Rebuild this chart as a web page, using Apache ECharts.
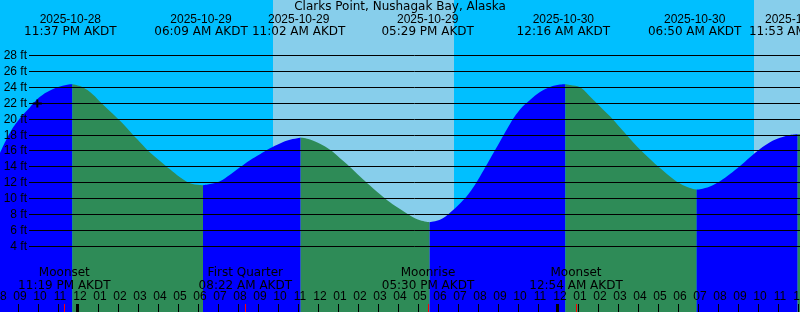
<!DOCTYPE html>
<html>
<head>
<meta charset="utf-8">
<script src="https://cdn.jsdelivr.net/npm/echarts@6/dist/echarts.min.js"></script>
<style>
html,body{margin:0;padding:0;background:#00BFFF;}
#chart{width:800px;height:312px;}
</style>
</head>
<body>
<div id="chart"></div>
<script>
// ---------- data ----------
const chartTitle = 'Clarks Point, Nushagak Bay, Alaska';
const axisStart = '2025-10-28 20:00';
const axisHours = 40;
const depthTicksFt = [4, 6, 8, 10, 12, 14, 16, 18, 20, 22, 24, 26, 28];

// tide height (hours after axisStart, feet)
const tideSampleHours = [0, 0.5, 1, 1.5, 2, 2.5, 3, 3.5, 4, 4.5, 5, 5.5, 6, 6.5, 7, 7.5, 8, 8.5, 9, 9.5,
  10, 10.5, 11, 11.5, 12, 12.5, 13, 13.5, 14, 14.5, 15, 15.5, 16, 16.5, 17, 17.5, 18, 18.5, 19, 19.5,
  20, 20.5, 21, 22, 22.5, 23, 23.5, 24, 24.5, 25, 25.5, 26, 26.5, 27, 27.5, 28, 28.5, 29, 29.5,
  30, 30.5, 31, 31.5, 32, 32.5, 33, 33.5, 34, 34.5, 35, 35.5, 36, 36.5, 37, 37.5, 38, 38.5, 39, 39.5, 40];
const tideSampleFt = [15.75, 18.3, 20.1, 21.5, 22.8, 23.6, 24.1, 24.37, 24.15, 23.4, 22.2, 21.0, 19.8, 18.45, 17.1, 15.8, 14.75, 13.7, 12.7, 11.95,
  11.72, 11.85, 12.2, 13.0, 13.95, 14.85, 15.6, 16.35, 16.95, 17.4, 17.65, 17.45, 16.9, 16.15, 15.1, 14.0, 12.8, 11.65, 10.55, 9.55,
  8.7, 7.9, 7.3, 7.35, 8.25, 9.4, 10.85, 12.8, 15.0, 17.2, 19.4, 21.2, 22.4, 23.4, 24.05, 24.35, 24.3, 24.0, 22.85,
  21.6, 20.35, 18.95, 17.55, 16.2, 15.0, 13.85, 12.8, 11.9, 11.35, 11.2, 11.55, 12.2, 13.1, 14.1, 15.2, 16.25, 17.1, 17.65, 18.0, 18.1];

// high / low tides
const tideEventTimes = ['2025-10-28 23:37', '2025-10-29 06:09', '2025-10-29 11:02', '2025-10-29 17:29',
  '2025-10-30 00:16', '2025-10-30 06:50', '2025-10-30 11:53'];
const tideEventFt = [24.4, 11.7, 17.7, 7.05, 24.4, 11.15, 18.1];

// moon events
const moonEventNames = ['Moonset', 'First Quarter', 'Moonrise', 'Moonset'];
const moonEventTimes = ['2025-10-28 23:19', '2025-10-29 08:22', '2025-10-29 17:30', '2025-10-30 00:54'];

// daylight (sunrise -> sunset)
const daylightStart = ['2025-10-29 09:39', '2025-10-30 09:42'];
const daylightEnd = ['2025-10-29 18:42', '2025-10-30 18:40'];

// plus marker
const markerTime = '2025-10-28 21:52';
const markerFt = 22;

const timeZoneLabel = 'AKDT';

// ---------- helpers ----------
function toMs(s) {
  const [d, t] = s.split(' ');
  const [Y, M, D] = d.split('-').map(Number);
  const [h, m] = t.split(':').map(Number);
  return Date.UTC(Y, M - 1, D, h, m);
}
const startMs = toMs(axisStart);
const hoursOf = s => (toMs(s) - startMs) / 3600000;
const startClock = Number(axisStart.slice(11, 13));
function clock12(s) {
  const h = Number(s.slice(11, 13));
  const m = s.slice(14, 16);
  return String(h % 12 || 12).padStart(2, '0') + ':' + m + ' ' + (h < 12 ? 'AM' : 'PM') + ' ' + timeZoneLabel;
}
const FONT_A = 'Liberation Sans';
const FONT_B = 'DejaVu Sans';
const LABEL_SHIFT = -2; // text/tick marks sit slightly left of the exact time

// ---------- tide segments ----------
const points = tideSampleHours.map((h, i) => [h, tideSampleFt[i]])
  .concat(tideEventTimes.map((t, i) => [hoursOf(t), tideEventFt[i]]))
  .sort((a, b) => a[0] - b[0]);
const bounds = [0].concat(tideEventTimes.map(hoursOf), [axisHours]);
const tideSeries = [];
for (let i = 0; i < bounds.length - 1; i++) {
  const seg = points.filter(p => p[0] >= bounds[i] - 1e-9 && p[0] <= bounds[i + 1] + 1e-9);
  const rising = seg[seg.length - 1][1] > seg[0][1];
  tideSeries.push({
    type: 'line', data: seg, smooth: 0.4, symbol: 'none', showSymbol: false,
    lineStyle: { width: 0, opacity: 0 },
    areaStyle: { color: rising ? '#0000FF' : '#2E8B57', opacity: 1, origin: 'start' },
    z: 2, silent: true, animation: false
  });
}

function custom(data, z, clip, renderItem) {
  return { type: 'custom', data, z, clip, silent: true, animation: false, renderItem };
}

const bandSeries = custom(daylightStart.map((s, i) => [hoursOf(s), hoursOf(daylightEnd[i])]), 1, true,
  (params, api) => {
    const cs = params.coordSys;
    const x0 = api.coord([api.value(0), 0])[0];
    const x1 = api.coord([api.value(1), 0])[0];
    return { type: 'rect', shape: { x: x0, y: cs.y, width: x1 - x0, height: cs.height }, style: { fill: '#87CEEB' } };
  });

const gridSeries = custom(depthTicksFt.map(v => [0, v]), 5, false,
  (params, api) => {
    const cs = params.coordSys;
    const y = Math.round(api.coord([0, api.value(1)])[1] - 0.5) + 0.5;
    return { type: 'group', children: [
      { type: 'line', shape: { x1: 29, y1: y, x2: cs.x + cs.width, y2: y }, style: { stroke: '#000', lineWidth: 1 } },
      { type: 'text', style: { text: api.value(1) + ' ft', x: 27, y: y, align: 'right', verticalAlign: 'middle',
        fontSize: 12, fontFamily: FONT_A, fill: '#000' } }
    ] };
  });

// hour ticks along the bottom (thick at midnight)
const hourTicks = [];
for (let h = 0; h <= axisHours; h++) hourTicks.push(h);
const hourTickSeries = custom([[0, 1]], 6, false,
  (params, api) => {
    const cs = params.coordSys;
    const b = cs.y + cs.height;
    const children = hourTicks.map(h => {
      const x = Math.round(api.coord([h, 0])[0]) + LABEL_SHIFT;
      const midnight = (startClock + h) % 24 === 0;
      return { type: 'rect', shape: { x: midnight ? x - 2 : x, y: b - 8, width: midnight ? 3 : 1, height: 8 },
        style: { fill: '#000000' } };
    });
    return { type: 'group', children };
  });

const moonTickSeries = custom(moonEventTimes.map(t => [hoursOf(t), 0]), 7, false,
  (params, api) => {
    const cs = params.coordSys;
    const x = Math.round(api.coord([api.value(0), 0])[0]) + LABEL_SHIFT;
    const b = cs.y + cs.height;
    return { type: 'rect', shape: { x: x, y: b - 8, width: 1, height: 8 }, style: { fill: '#FF0000' } };
  });

const tideLabelSeries = custom(tideEventTimes.map((t, i) => [hoursOf(t), i]), 7, false,
  (params, api) => {
    const x = api.coord([api.value(0), 0])[0] + LABEL_SHIFT;
    const t = tideEventTimes[api.value(1)];
    return { type: 'group', children: [
      { type: 'text', style: { text: t.slice(0, 10), x, y: 19.5, align: 'center', verticalAlign: 'middle', fontSize: 12, fontFamily: FONT_A, fill: '#000' } },
      { type: 'text', style: { text: clock12(t), x, y: 31.7, align: 'center', verticalAlign: 'middle', fontSize: 12, fontFamily: FONT_B, fill: '#000' } }
    ] };
  });

const moonLabelSeries = custom(moonEventTimes.map((t, i) => [hoursOf(t), i]), 7, false,
  (params, api) => {
    const x = api.coord([api.value(0), 0])[0] + LABEL_SHIFT;
    const i = api.value(1);
    return { type: 'group', children: [
      { type: 'text', style: { text: moonEventNames[i], x, y: 272.7, align: 'center', verticalAlign: 'middle', fontSize: 12, fontFamily: FONT_B, fill: '#000' } },
      { type: 'text', style: { text: clock12(moonEventTimes[i]), x, y: 285.5, align: 'center', verticalAlign: 'middle', fontSize: 12, fontFamily: FONT_B, fill: '#000' } }
    ] };
  });

const markerSeries = custom([[hoursOf(markerTime), markerFt]], 8, false,
  (params, api) => {
    const p = api.coord([api.value(0), api.value(1)]);
    const y = Math.round(p[1] - 0.5) + 0.5;
    return { type: 'group', children: [
      { type: 'line', shape: { x1: p[0] - 4.5, y1: y, x2: p[0] + 4.5, y2: y }, style: { stroke: '#000', lineWidth: 2 } },
      { type: 'line', shape: { x1: p[0], y1: y - 4, x2: p[0], y2: y + 4 }, style: { stroke: '#000', lineWidth: 2 } }
    ] };
  });

const chart = echarts.init(document.getElementById('chart'), null, { renderer: 'canvas', width: 800, height: 312 });
chart.setOption({
  animation: false,
  backgroundColor: '#00BFFF',
  title: {
    text: chartTitle, left: 'center', top: 1, padding: 0,
    textStyle: { fontSize: 12, fontFamily: FONT_B, fontWeight: 'normal', color: '#000' }
  },
  grid: { left: 0, right: 0, top: 0, bottom: 0, containLabel: false, outerBoundsMode: 'none' },
  xAxis: {
    type: 'value', min: 0, max: axisHours, interval: 1, z: 10, position: 'bottom',
    axisLine: { show: false, onZero: false }, splitLine: { show: false },
    axisTick: { show: false },
    axisLabel: {
      show: true, inside: true, margin: 9, color: '#000', fontSize: 12, fontFamily: FONT_A,
      showMinLabel: true, showMaxLabel: true, hideOverlap: false,
      formatter: v => { const c = (startClock + Math.round(v)) % 24; return String(c % 12 || 12).padStart(2, '0'); }
    }
  },
  yAxis: { type: 'value', min: -4.23, max: 34.97, show: false },
  series: [bandSeries].concat(tideSeries, [gridSeries, hourTickSeries, moonTickSeries, tideLabelSeries, moonLabelSeries, markerSeries])
});
</script>
</body>
</html>
